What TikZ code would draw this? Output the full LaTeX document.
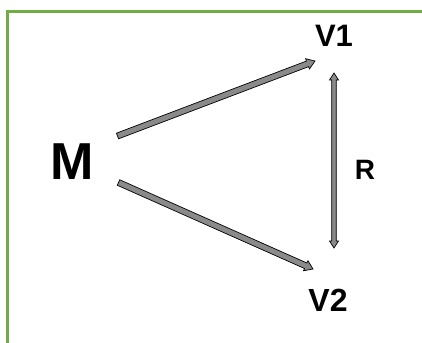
\documentclass[tikz,border=0pt]{standalone}
\usepackage{fontspec}
\setmainfont{Liberation Sans}
\usetikzlibrary{calc}

\definecolor{framegreen}{HTML}{70AD47}
\definecolor{arrowgray}{HTML}{8A8A8A}

% Filled block arrow from #1 to #2: half shaft width #3, half head width #4, head length #5
\newcommand\fatarrow[5]{%
  \path ($(#2)!#5!(#1)$) coordinate (fa-c);
  \draw[blockarrow] ($(#1)!#3!90:(#2)$) -- ($(fa-c)!#3!90:(#2)$)
    -- ($(fa-c)!#4!90:(#2)$) -- (#2) -- ($(fa-c)!#4!-90:(#2)$)
    -- ($(fa-c)!#3!-90:(#2)$) -- ($(#1)!#3!-90:(#2)$) -- cycle;
}
% Same, with a head at both ends
\newcommand\fatdoublearrow[5]{%
  \path ($(#2)!#5!(#1)$) coordinate (fa-c1);
  \path ($(#1)!#5!(#2)$) coordinate (fa-c2);
  \draw[blockarrow] (#1) -- ($(fa-c2)!#4!90:(#2)$) -- ($(fa-c2)!#3!90:(#2)$)
    -- ($(fa-c1)!#3!90:(#2)$) -- ($(fa-c1)!#4!90:(#2)$) -- (#2)
    -- ($(fa-c1)!#4!-90:(#2)$) -- ($(fa-c1)!#3!-90:(#2)$)
    -- ($(fa-c2)!#3!-90:(#2)$) -- ($(fa-c2)!#4!-90:(#2)$) -- cycle;
}

\tikzset{
  blockarrow/.style={draw=black, fill=arrowgray, line width=0.7pt, line join=miter},
  label/.style={inner sep=0pt, font=\bfseries},
  frameline/.style={draw=framegreen, line width=3pt}
}

\begin{document}
\begin{tikzpicture}[x=1pt, y=-1pt]
  \useasboundingbox (0,0) rectangle (422,342);
  \fill[white] (0,0) rectangle (422,342);

  % frame edges
  \draw[frameline] (7,345) -- (7,12) -- (425,12);

  % labels
  \node[label, font=\bfseries\fontsize{52}{52}\selectfont] (M) at (72,162) {M};
  \node[label, font=\bfseries\fontsize{31}{31}\selectfont] (V1) at (334,36) {V1};
  \node[label, font=\bfseries\fontsize{32}{32}\selectfont] (V2) at (328,300) {V2};
  \node[label, font=\bfseries\fontsize{28}{28}\selectfont] (R) at (365,170) {R};

  % connector ends
  \coordinate (m1) at (117.5,136);
  \coordinate (v1in) at (315,61);
  \coordinate (m2) at (118.5,182.5);
  \coordinate (v2in) at (313,269);
  \coordinate (r1) at (334,73);
  \coordinate (r2) at (334,248);

  \fatarrow{m1}{v1in}{3pt}{5.5pt}{8pt}
  \fatarrow{m2}{v2in}{3pt}{5.5pt}{8pt}
  \fatdoublearrow{r1}{r2}{2.3pt}{4.5pt}{7pt}
\end{tikzpicture}
\end{document}
